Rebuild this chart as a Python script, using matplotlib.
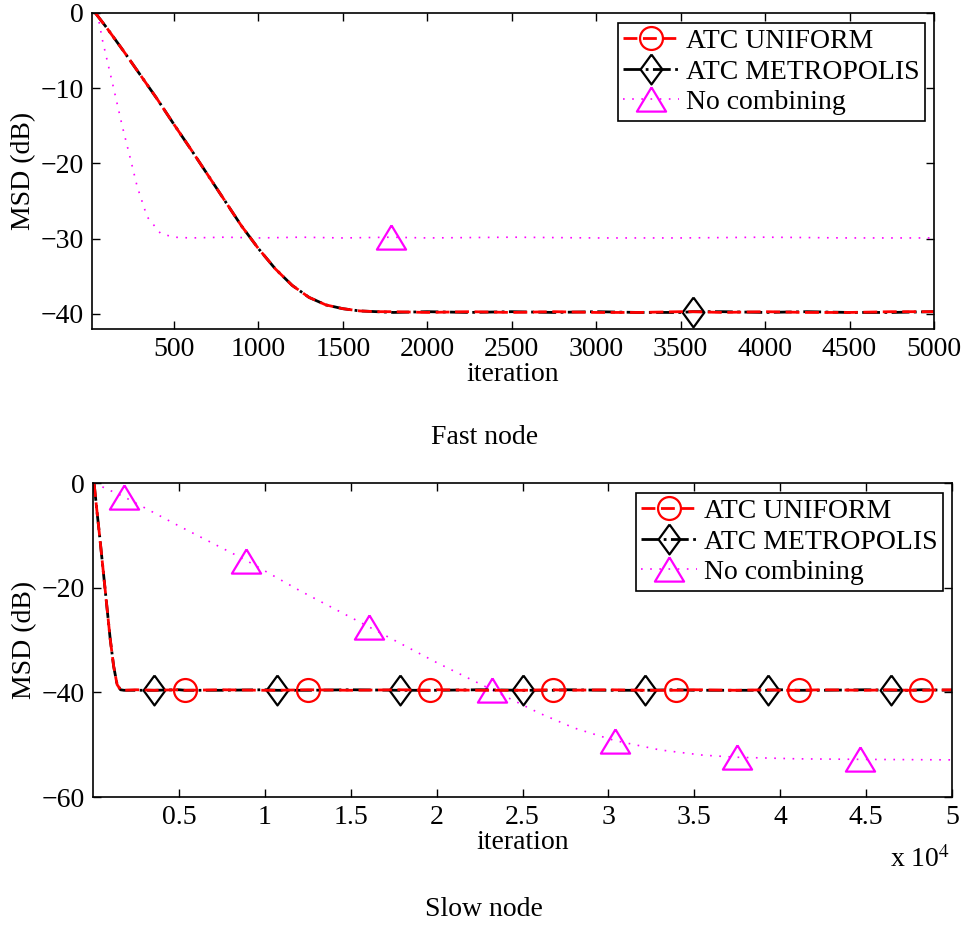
import matplotlib
matplotlib.use('Agg')
import matplotlib.pyplot as plt
from matplotlib.lines import Line2D

plt.rcParams['font.family'] = 'serif'
plt.rcParams['font.serif'] = ['Liberation Serif', 'DejaVu Serif']
plt.rcParams['mathtext.fontset'] = 'stix'
plt.rcParams['font.size'] = 20

# ---- fast node (top panel) ----
fast_atc_iter = [35, 100, 200, 300, 400, 500, 600, 700, 800, 900, 1000, 1100, 1200,
                 1300, 1400, 1500, 1600, 1700, 1800, 2000, 2250, 2500, 2750, 3000,
                 3250, 3500, 3571, 3750, 4000, 4250, 4500, 4750, 5000]
fast_uniform = [0.0, -1.9, -5.0, -8.2, -11.4, -14.8, -18.1, -21.5, -24.9, -28.3, -31.3,
                -34.0, -36.2, -37.8, -38.8, -39.3, -39.6, -39.7, -39.7, -39.8, -39.7,
                -39.8, -39.7, -39.8, -39.8, -39.7, -39.7, -39.8, -39.7, -39.8, -39.8,
                -39.7, -39.7]
fast_metro = [0.0, -1.9, -5.0, -8.2, -11.4, -14.8, -18.1, -21.5, -24.9, -28.3, -31.3,
              -34.0, -36.2, -37.8, -38.8, -39.3, -39.6, -39.7, -39.8, -39.7, -39.8,
              -39.7, -39.8, -39.7, -39.8, -39.8, -39.7, -39.7, -39.8, -39.7, -39.8,
              -39.8, -39.7]
fast_nc_iter = [47, 77, 136, 195, 244, 283, 342, 421, 500, 600, 800, 1000, 1250, 1500,
                1786, 2000, 2500, 3000, 3500, 4000, 4500, 5000]
fast_nc = [0.0, -3.6, -9.3, -15.1, -19.5, -23.1, -27.1, -29.3, -29.8, -29.9, -29.8,
           -29.9, -29.8, -29.9, -29.8, -29.9, -29.8, -29.9, -29.9, -29.8, -29.9, -29.9]

# ---- slow node (bottom panel) ----
slow_atc_iter = [60, 200, 400, 600, 800, 1000, 1200, 1400, 1600, 1800, 2500, 3571, 5000,
                 5357, 7500, 10000, 10714, 12500, 15000, 17857, 19643, 20000, 22500,
                 25000, 26786, 27500, 30000, 32143, 33929, 35000, 37500, 39286, 40000,
                 41071, 42500, 45000, 46429, 47500, 48214, 50000]
slow_uniform = [0.0, -4.5, -10.6, -17.0, -23.4, -29.8, -35.0, -38.5, -39.5, -39.6, -39.5,
                -39.6, -39.5, -39.6, -39.5, -39.6, -39.6, -39.5, -39.6, -39.5, -39.6,
                -39.5, -39.6, -39.6, -39.5, -39.6, -39.5, -39.6, -39.6, -39.5, -39.6,
                -39.5, -39.6, -39.6, -39.5, -39.6, -39.5, -39.6, -39.6, -39.5]
slow_metro = [0.0, -4.5, -10.6, -17.0, -23.4, -29.8, -35.0, -38.5, -39.5, -39.6, -39.6,
              -39.6, -39.5, -39.6, -39.6, -39.5, -39.6, -39.6, -39.5, -39.6, -39.6,
              -39.6, -39.5, -39.6, -39.6, -39.5, -39.6, -39.6, -39.5, -39.6, -39.6,
              -39.6, -39.5, -39.6, -39.6, -39.5, -39.6, -39.6, -39.5, -39.6]
slow_nc_iter = [60, 1786, 5000, 8929, 12000, 16071, 20000, 23214, 26000, 28000, 30357,
                33000, 35500, 37500, 41000, 44643, 50000]
slow_nc = [0.0, -2.6, -8.2, -14.8, -20.5, -27.5, -34.3, -39.5, -44.0, -46.8, -49.2,
           -51.0, -52.0, -52.4, -52.7, -52.8, -52.9]

# marker positions (iterations)
tri_marks = [1786, 8929, 16071, 23214, 30357, 37500, 44643]
dia_marks = [3571, 10714, 17857, 25000, 32143, 39286, 46429]
circ_marks = [5357, 12500, 19643, 26786, 33929, 41071, 48214]

fast_xticks = [500, 1000, 1500, 2000, 2500, 3000, 3500, 4000, 4500, 5000]
slow_xticks = [5000, 10000, 15000, 20000, 25000, 30000, 35000, 40000, 45000, 50000]
slow_xticklabels = ['0.5', '1', '1.5', '2', '2.5', '3', '3.5', '4', '4.5', '5']

DIAMOND = [(0, 1), (0.73, 0), (0, -1), (-0.73, 0), (0, 1)]
TRIANGLE = [(0, 0.83), (1, -0.83), (-1, -0.83), (0, 0.83)]
MAG = (1, 0, 1)

uni_kw = dict(color='red', lw=2, dashes=(5, 2), marker='o', ms=16.5, mfc='none',
              mew=1.6, mec='red')
met_kw = dict(color='black', lw=2, linestyle='-.', marker=DIAMOND, ms=21.5, mfc='none',
              mew=1.6, mec='black')
nc_kw = dict(color=MAG, lw=1.2, linestyle=(0, (1, 4.5)), marker=TRIANGLE, ms=21,
             mfc='none', mew=1.6, mec=MAG)


def idx(xs, marks):
    return [xs.index(m) for m in marks if m in xs]


def style_axes(ax):
    ax.tick_params(direction='in', top=True, right=True, length=6, width=1, pad=6)
    for s in ax.spines.values():
        s.set_linewidth(1.2)


def add_legend(ax, loc_box):
    handles = [Line2D([], [], **uni_kw), Line2D([], [], **met_kw), Line2D([], [], **nc_kw)]
    leg = ax.legend(handles, ['ATC UNIFORM', 'ATC METROPOLIS', 'No combining'],
                    loc='upper right', bbox_to_anchor=loc_box, numpoints=1,
                    handlelength=2.0, handletextpad=0.25, labelspacing=0.18,
                    borderpad=0.2, borderaxespad=0, fancybox=False, framealpha=1,
                    edgecolor='black')
    leg.get_frame().set_linewidth(1.2)


fig = plt.figure(figsize=(9.63, 9.27), dpi=100)
ax1 = fig.add_axes([0.0955, 0.6451, 0.8744, 0.3409])
ax2 = fig.add_axes([0.0966, 0.1402, 0.8920, 0.3387])

# top
ax1.plot(fast_nc_iter, fast_nc, markevery=idx(fast_nc_iter, tri_marks), **nc_kw)
ax1.plot(fast_atc_iter, fast_metro, markevery=idx(fast_atc_iter, dia_marks), **met_kw)
ax1.plot(fast_atc_iter, fast_uniform, markevery=idx(fast_atc_iter, circ_marks), **uni_kw)
ax1.set_xlim(15, 5000)
ax1.set_ylim(-42, 0)
ax1.set_xticks(fast_xticks)
ax1.set_yticks([-40, -30, -20, -10, 0])
ax1.set_xlabel('iteration', labelpad=0)
ax1.set_ylabel('MSD (dB)', labelpad=3)
style_axes(ax1)
add_legend(ax1, (0.9895, 0.968))

# bottom
ax2.plot(slow_nc_iter, slow_nc, markevery=idx(slow_nc_iter, tri_marks), **nc_kw)
ax2.plot(slow_atc_iter, slow_metro, markevery=idx(slow_atc_iter, dia_marks), **met_kw)
ax2.plot(slow_atc_iter, slow_uniform, markevery=idx(slow_atc_iter, circ_marks), **uni_kw)
ax2.set_xlim(0, 50000)
ax2.set_ylim(-60, 0)
ax2.set_xticks(slow_xticks)
ax2.set_xticklabels(slow_xticklabels)
ax2.set_yticks([-60, -40, -20, 0])
ax2.set_xlabel('iteration', labelpad=0)
ax2.set_ylabel('MSD (dB)', labelpad=3)
style_axes(ax2)
add_legend(ax2, (0.9895, 0.968))

fig.text(0.955, 1 - 860 / 927, r'x 10$^{4}$', ha='center', va='center', fontsize=20)
fig.text(0.503, 1 - 438 / 927, 'Fast node', ha='center', va='center', fontsize=20)
fig.text(0.503, 1 - 910 / 927, 'Slow node', ha='center', va='center', fontsize=20)

fig.savefig('out.png', dpi=100)
